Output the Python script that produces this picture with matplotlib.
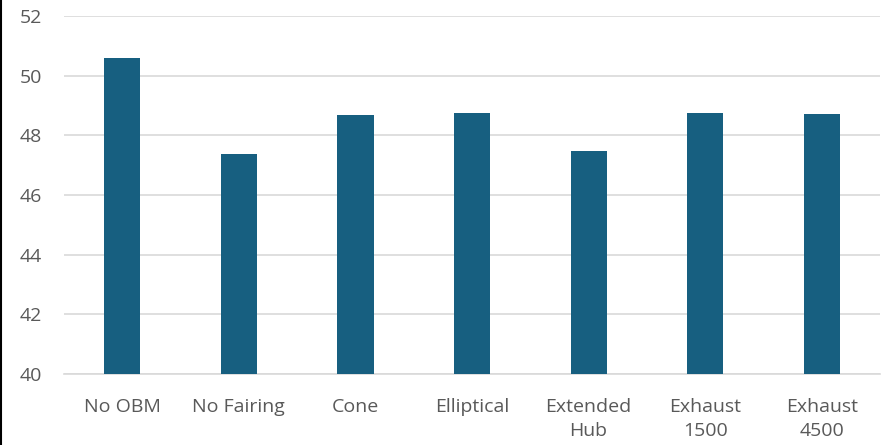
import matplotlib
matplotlib.use("Agg")
import matplotlib.pyplot as plt
from matplotlib.lines import Line2D

categories = ["No OBM", "No Fairing", "Cone", "Elliptical", "Extended\nHub", "Exhaust\n1500", "Exhaust\n4500"]
values = [50.6, 47.37, 48.69, 48.75, 47.49, 48.76, 48.72]
yticks = [40, 42, 44, 46, 48, 50, 52]

plt.rcParams['font.family'] = ['Open Sans', 'DejaVu Sans']

fig = plt.figure(figsize=(8.85, 4.45), dpi=100)
ax = fig.add_axes([0.0723, 0.1596, 0.9221, 0.8044])

# bars
x = range(len(categories))
ax.bar(x, [v - 40 for v in values], bottom=40, width=0.31, color="#175f80", zorder=3)

ax.set_ylim(40, 52)
ax.set_xlim(-0.5, len(categories) - 0.5)
ax.set_yticks(yticks)
ax.set_xticks(list(x))
ax.set_xticklabels(categories, linespacing=1.45)
ax.grid(axis="y", color="#d9d9d9", linewidth=1.2, zorder=0)
ax.tick_params(axis="y", length=0, pad=16, labelsize=14, labelcolor="#595959")
ax.tick_params(axis="x", length=0, pad=17, labelsize=14, labelcolor="#595959")
for s in ["top", "right", "left"]:
    ax.spines[s].set_visible(False)
ax.spines["bottom"].set_color("#d9d9d9")
ax.spines["bottom"].set_linewidth(1.2)

# left frame line
fig.add_artist(Line2D([0.001, 0.001], [0, 1], color="black", linewidth=1.5, transform=fig.transFigure))

fig.savefig("out.png", dpi=100)
